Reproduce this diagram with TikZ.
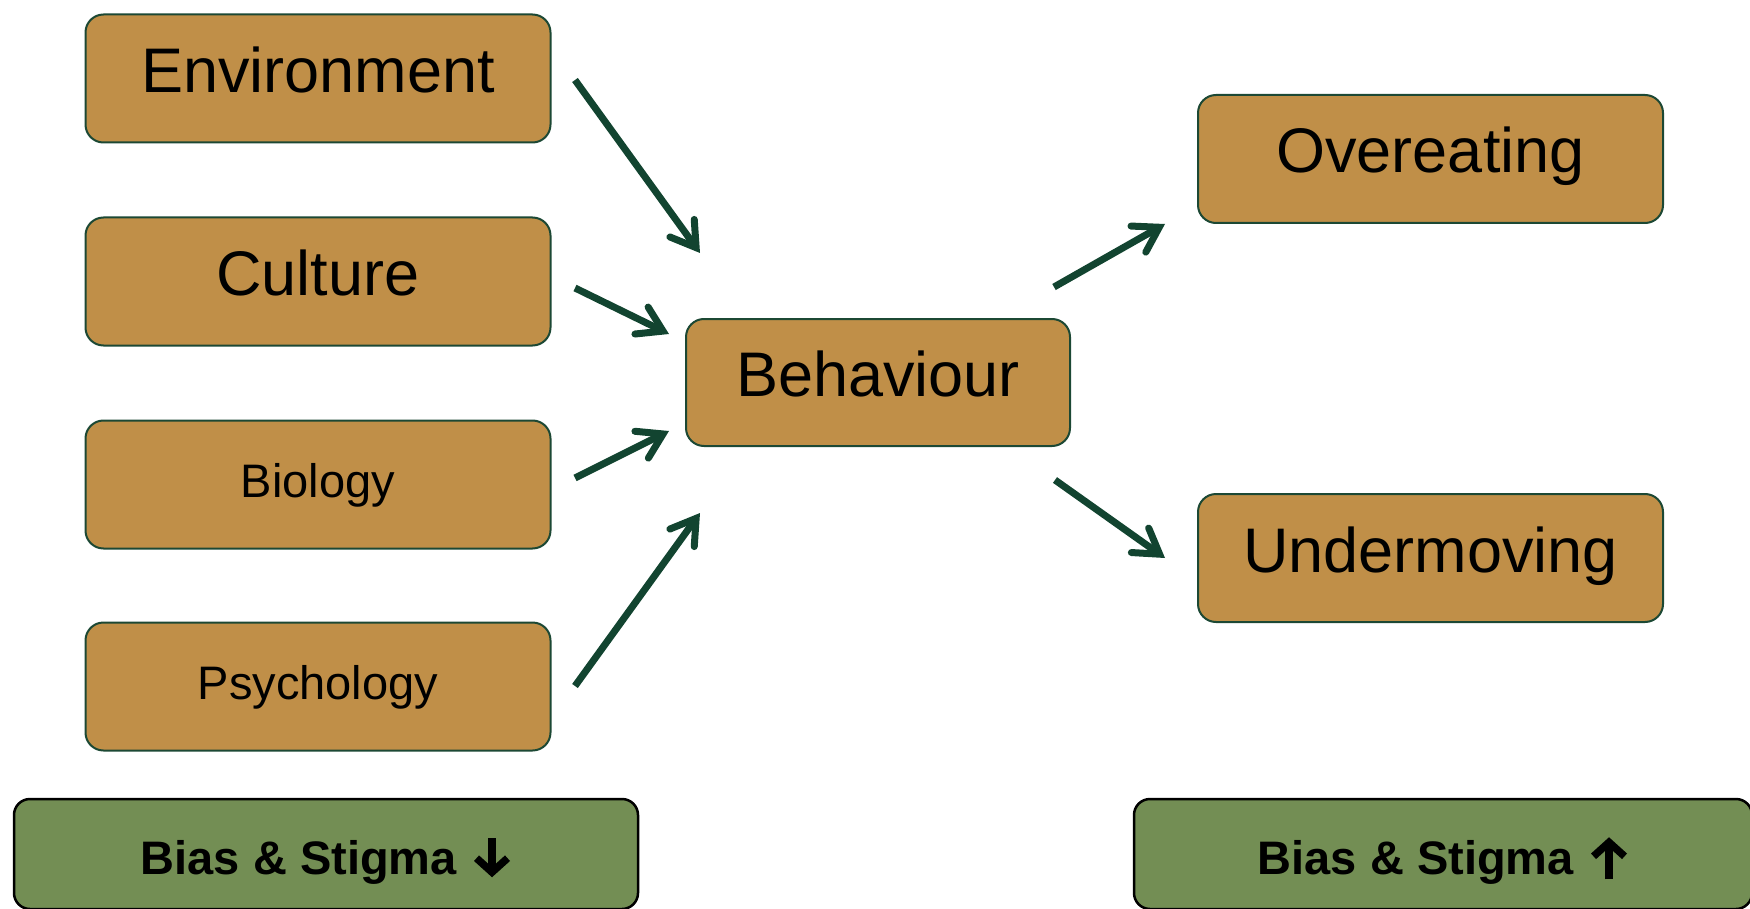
\documentclass[tikz,border=0pt]{standalone}
\usepackage{fontspec}
\setmainfont{Liberation Sans}
\usetikzlibrary{arrows.meta}

\definecolor{tanfill}{RGB}{192,143,72}
\definecolor{tanedge}{RGB}{28,72,52}
\definecolor{greenfill}{RGB}{115,142,84}
\definecolor{arrowgreen}{RGB}{18,68,48}

% heavy arrows set after the bias labels
\newcommand{\heavyarrow}[2]{\tikz[baseline=0pt, x=1pt, y=1pt]
  \draw[black, line width=7.5pt, -{Straight Barb[length=14pt, width=31pt, line join=miter]}] (0,#1) -- (0,#2);}

\begin{document}
\begin{tikzpicture}[x=1pt,y=-1pt,
  tanbox/.style={draw=tanedge, line width=2pt, fill=tanfill, rounded corners=18pt,
    minimum width=465pt, minimum height=128pt, inner sep=0pt, text=black},
  bigtext/.style={font=\fontsize{63}{70}\selectfont, text height=44pt, text depth=16pt},
  smalltext/.style={font=\fontsize{47}{54}\selectfont, text height=35pt, text depth=9pt},
  biasbox/.style={draw=black, line width=2.5pt, fill=greenfill, rounded corners=16pt,
    minimum height=110pt, inner sep=0pt, text=black,
    font=\bfseries\fontsize{47}{54}\selectfont, text height=42pt, text depth=1.5pt},
  flow/.style={draw=arrowgreen, line width=7pt,
    -{Straight Barb[length=24pt, width=30pt, line join=miter, line cap=round]}}
]
\useasboundingbox (0,0) rectangle (1750,909);

% causes on the left
\node[tanbox, bigtext]   (env)  at (318,78.5)  {Environment};
\node[tanbox, bigtext]   (cul)  at (318,281.5) {Culture};
\node[tanbox, smalltext] (bio)  at (318,484.5) {Biology};
\node[tanbox, smalltext] (psy)  at (318,686.5) {Psychology};

% behaviour in the middle
\node[tanbox, bigtext, minimum width=384pt, minimum height=127pt] (beh) at (878,382.5) {Behaviour};

% outcomes on the right
\node[tanbox, bigtext] (over)  at (1430.5,159) {Overeating};
\node[tanbox, bigtext] (under) at (1430.5,558) {Undermoving};

% bias and stigma boxes along the bottom
\node[biasbox, minimum width=624pt] (biasdown) at (326,854)
  {Bias \& Stigma\hspace{16pt}\heavyarrow{36}{-3}};
\node[biasbox, minimum width=618pt] (biasup)   at (1443,854)
  {Bias \& Stigma\hspace{16pt}\heavyarrow{-5}{37}};

% free ends of the arrows
\coordinate (envout) at (575,80);
\coordinate (envin)  at (700,253);
\coordinate (culout) at (575,288);
\coordinate (culin)  at (669,334);
\coordinate (bioout) at (575,478);
\coordinate (bioin)  at (669,431);
\coordinate (psyout) at (575,686);
\coordinate (psyin)  at (700,513);
\coordinate (behup)  at (1054,287);
\coordinate (overin) at (1165,224);
\coordinate (behdn)  at (1055,480);
\coordinate (underin) at (1165,558);

\draw[flow] (envout) -- (envin);
\draw[flow] (culout) -- (culin);
\draw[flow] (bioout) -- (bioin);
\draw[flow] (psyout) -- (psyin);
\draw[flow] (behup) -- (overin);
\draw[flow] (behdn) -- (underin);
\end{tikzpicture}
\end{document}
